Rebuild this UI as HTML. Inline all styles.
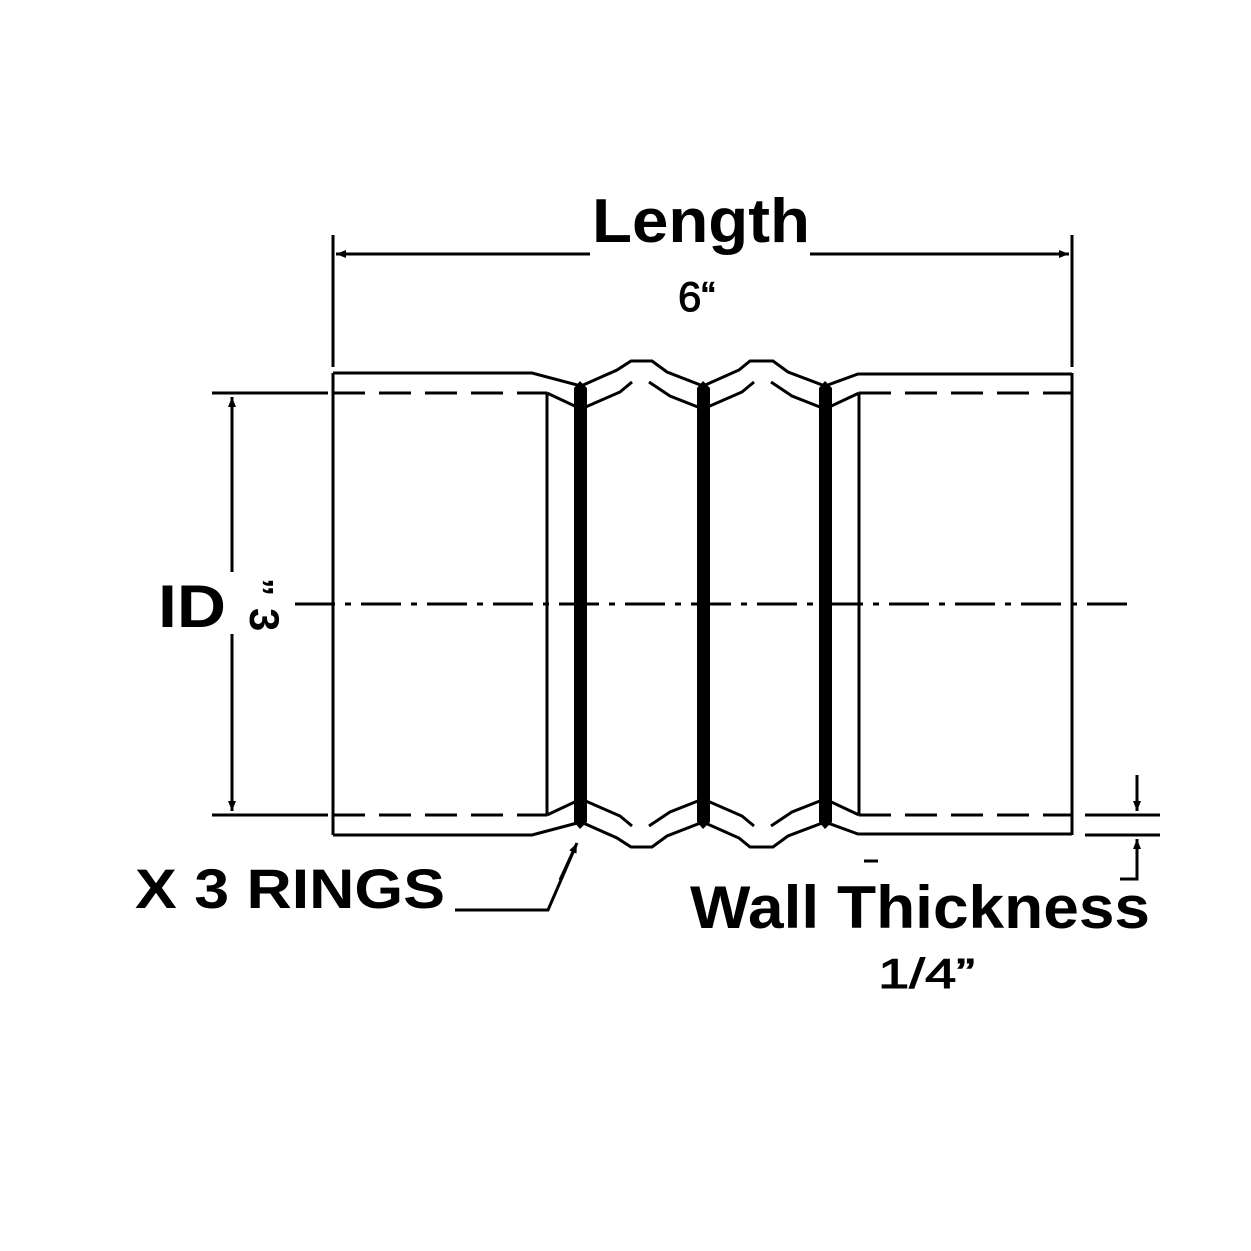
<!DOCTYPE html>
<html><head><style>html,body{margin:0;padding:0;background:#fff}svg{display:block}</style></head>
<body>
<svg width="1251" height="1251" viewBox="0 0 1251 1251" xmlns="http://www.w3.org/2000/svg" font-family="Liberation Sans, sans-serif">
<defs>
<marker id="a" markerWidth="10" markerHeight="8" refX="10" refY="4" orient="auto" markerUnits="userSpaceOnUse"><path d="M0,0 L10,4 L0,8 z" fill="#000"/></marker>
</defs>
<g stroke="#000" fill="none" stroke-width="3">
<line x1="333" y1="235" x2="333" y2="367"/>
<line x1="1072" y1="235" x2="1072" y2="367"/>
<line x1="590" y1="254" x2="336" y2="254" marker-end="url(#a)"/>
<line x1="810" y1="254" x2="1069" y2="254" marker-end="url(#a)"/>
<line x1="212" y1="393" x2="328" y2="393"/>
<line x1="212" y1="815" x2="328" y2="815"/>
<line x1="232" y1="572" x2="232" y2="397" marker-end="url(#a)"/>
<line x1="232" y1="634" x2="232" y2="811" marker-end="url(#a)"/>
<line x1="295" y1="604" x2="1135" y2="604" stroke-dasharray="40,10,6,10"/>
<path d="M333,373 V835 M1072,373 V835"/>
<path d="M333,373 H532 L581,386 L617,370 L631,361 H652 L667,372 L703,386 L739,370 L750,361 H773 L788,372 L825,386 L858,374 H1072"/>
<path d="M333,835 H532 L581,822 L617,838 L631,847 H652 L667,836 L703,822 L739,838 L750,847 H773 L788,836 L825,822 L858,834 H1072"/>
<path d="M333,393 H547 M333,815 H547 M859,393 H1072 M859,815 H1072" stroke-dasharray="32,14"/>
<path d="M547,393 V815 M859,393 V815"/>
<path d="M547,393 L581,409 L620,392 L632,382 M649,382 L670,396 L703,409 L742,392 L754,382 M771,382 L792,396 L825,409 L859,393"/>
<path d="M547,815 L581,799 L620,816 L632,826 M649,826 L670,812 L703,799 L742,816 L754,826 M771,826 L792,812 L825,799 L859,815"/>
<path d="M1085,815 H1160 M1085,835 H1160"/>
<line x1="1137" y1="775" x2="1137" y2="811" marker-end="url(#a)"/>
<path d="M1120,879 H1137 V874"/>
<line x1="1137" y1="874" x2="1137" y2="839" marker-end="url(#a)"/>
<line x1="864" y1="861" x2="878" y2="861"/>
<path d="M455,910 H548 L574,850"/>
<line x1="560" y1="880" x2="577" y2="843" marker-end="url(#a)"/>
</g>
<g fill="#000">
<path d="M574,388 L580,381 L587,388 V822 L580,829 L574,822 Z"/>
<path d="M697,388 L703,381 L710,388 V822 L703,829 L697,822 Z"/>
<path d="M819,388 L825,381 L832,388 V822 L825,829 L819,822 Z"/>
</g>
<g fill="#000" font-weight="bold">
<text x="592" y="242" font-size="62" textLength="218" lengthAdjust="spacingAndGlyphs">Length</text>
<text x="678" y="311" font-size="42" font-weight="normal" stroke="#000" stroke-width="1">6“</text>
<text x="158" y="627" font-size="60" textLength="68" lengthAdjust="spacingAndGlyphs">ID</text>
<text transform="translate(250,608) rotate(90)" font-size="42">3</text>
<text transform="translate(248,578) rotate(90)" font-size="36">”</text>
<text x="135" y="908" font-size="56" textLength="310" lengthAdjust="spacingAndGlyphs">X 3 RINGS</text>
<text x="690" y="928" font-size="60" textLength="460" lengthAdjust="spacingAndGlyphs">Wall Thickness</text>
<text x="878" y="988" font-size="42" font-weight="normal" stroke="#000" stroke-width="1" textLength="97" lengthAdjust="spacingAndGlyphs">1/4”</text>
</g>
</svg>
</body></html>
